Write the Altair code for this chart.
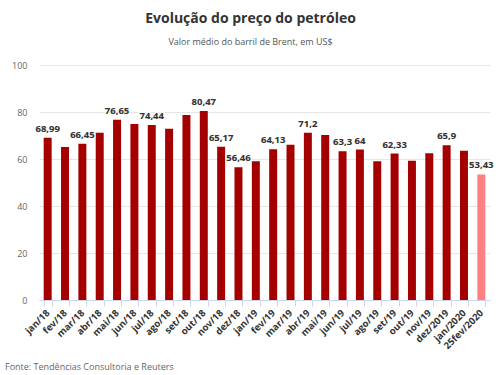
import altair as alt
import pandas as pd

months = ["jan/18", "fev/18", "mar/18", "abr/18", "mai/18", "jun/18", "jul/18", "ago/18",
          "set/18", "out/18", "nov/18", "dez/18", "jan/19", "fev/19", "mar/19", "abr/19",
          "mai/19", "jun/19", "jul/19", "ago/19", "set/19", "out/19", "nov/19", "dez/2019",
          "jan/2020", "25fev/2020"]
prices = [68.99, 65.1, 66.45, 71.2, 76.65, 74.9, 74.44, 72.9, 78.7, 80.47, 65.17, 56.46,
          59.0, 64.13, 66.1, 71.2, 70.2, 63.3, 64.0, 59.0, 62.33, 59.3, 62.5, 65.9, 63.5, 53.43]
labels = ["68,99", "", "66,45", "", "76,65", "", "74,44", "", "", "80,47", "65,17", "56,46",
          "", "64,13", "", "71,2", "", "63,3", "64", "", "62,33", "", "", "65,9", "", "53,43"]
kinds = ["media"] * 25 + ["parcial"]

title_text = "Evolução do preço do petróleo"
subtitle_text = "Valor médio do barril de Brent, em US$"
source_text = "Fonte: Tendências Consultoria e Reuters"

df = pd.DataFrame({"mes": months, "preco": prices, "rotulo": labels, "tipo": kinds})

FONT = "Open Sans"

x = alt.X("mes:N", sort=None, title=None,
          scale=alt.Scale(paddingInner=0.54, paddingOuter=0.27),
          axis=alt.Axis(labelAngle=-45, labelAlign="right", labelBaseline="middle",
                        labelFontSize=9.5, labelFontWeight="bold", labelColor="#333333",
                        labelFont=FONT, labelPadding=5,
                        domainColor="#ccd6eb", tickColor="#ccd6eb", tickSize=6,
                        tickBand="extent", grid=False, labelOverlap=False))
y = alt.Y("preco:Q", title=None,
          scale=alt.Scale(domain=[0, 100]),
          axis=alt.Axis(values=[0, 20, 40, 60, 80, 100], labelFontSize=9, labelColor="#666666",
                        labelFont=FONT, labelPadding=12, domain=False, ticks=False,
                        gridColor="#e6e6e6", gridWidth=1))

base = alt.Chart(df)

bars = base.mark_bar().encode(
    x=x, y=y,
    color=alt.Color("tipo:N", scale=alt.Scale(domain=["media", "parcial"],
                                              range=["#a50000", "#ff8080"]), legend=None),
)

text = base.mark_text(baseline="bottom", dy=-4, fontSize=9.5, fontWeight="bold",
                      color="#333333", font=FONT, stroke="white", strokeWidth=2.5,
                      strokeOpacity=0.8).encode(x=x, y=y, text="rotulo:N")
text_fill = base.mark_text(baseline="bottom", dy=-4, fontSize=9.5, fontWeight="bold",
                           color="#333333", font=FONT).encode(x=x, y=y, text="rotulo:N")

src = alt.Chart(pd.DataFrame({"t": [source_text]})).mark_text(
    align="left", baseline="middle", fontSize=9, color="#666666", font=FONT
).encode(x=alt.value(-34), y=alt.value(302), text="t:N")

chart = alt.layer(bars, text, text_fill, src).properties(
    width=451, height=235,
    padding={"left": 39, "top": 65, "right": 10, "bottom": 75},
    autosize=alt.AutoSizeParams(type="none"),
    title=alt.TitleParams(text=title_text, subtitle=subtitle_text, anchor="middle", dx=-14,
                          font=FONT, fontSize=14, fontWeight="bold", color="#333333",
                          subtitleFont=FONT, subtitleFontSize=9, subtitleColor="#555555",
                          subtitlePadding=12, offset=14),
).configure_view(stroke=None)

chart.save("out.html", embed_options={"renderer": "svg", "actions": False})
